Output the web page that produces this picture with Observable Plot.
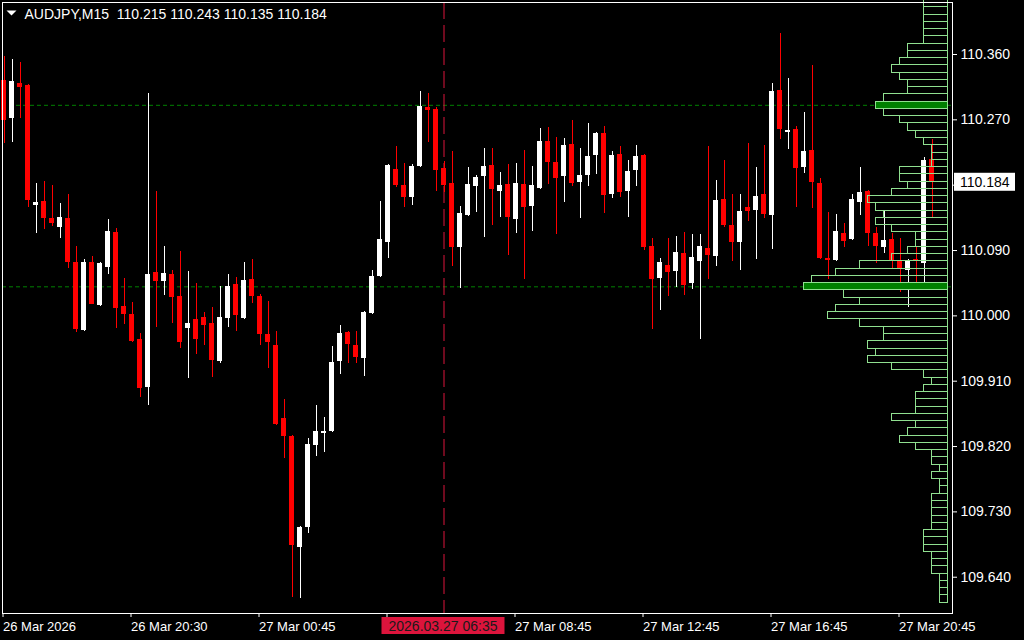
<!DOCTYPE html>
<html><head><meta charset="utf-8">
<script src="https://cdn.jsdelivr.net/npm/d3@7"></script>
<script src="https://cdn.jsdelivr.net/npm/@observablehq/plot@0.6"></script>
<style>
html,body{margin:0;padding:0;background:#000;overflow:hidden}
#chart{position:relative;width:1024px;height:640px}
</style></head><body><div id="chart"></div>
<script>
// ---- data (AUDJPY, M15) ----
const symbolName = "AUDJPY,M15";
const opens = [110.324,110.272,110.320,110.317,110.152,110.158,110.134,110.122,110.134,110.073,
109.980,110.073,110.014,110.067,110.115,110.013,110.002,109.967,109.901,110.060,
110.047,110.057,110.027,109.983,109.995,109.998,109.989,109.937,109.996,110.043,
109.996,110.050,110.027,109.974,109.959,109.859,109.834,109.681,109.708,109.821,
109.839,109.841,109.937,109.977,109.959,109.941,110.003,110.054,110.101,110.202,
110.180,110.163,110.206,110.287,110.284,110.203,110.182,110.094,110.138,110.178,
110.192,110.207,110.171,110.181,110.133,110.181,110.151,110.175,110.240,110.211,
110.192,110.236,110.184,110.193,110.221,110.251,110.167,110.222,110.171,110.200,
110.221,110.096,110.052,110.069,110.061,110.086,110.045,110.075,110.093,110.082,
110.160,110.124,110.101,110.149,110.145,110.167,110.138,110.310,110.253,110.257,
110.204,110.228,110.182,110.079,110.076,110.113,110.105,110.156,110.171,110.113,
110.094,110.105,110.076,110.062,110.078,110.072,110.215];
const highs = [110.357,110.353,110.349,110.318,110.182,110.185,110.180,110.155,110.167,110.096,
110.078,110.082,110.074,110.133,110.120,110.052,110.018,109.976,110.306,110.171,
110.096,110.062,110.089,110.061,110.045,110.005,110.011,110.040,110.057,110.053,
110.073,110.078,110.029,110.020,109.978,109.885,109.835,109.710,109.831,109.877,
109.860,109.958,109.987,109.978,109.978,110.006,110.062,110.158,110.209,110.233,
110.210,110.208,110.309,110.306,110.287,110.212,110.226,110.151,110.204,110.193,
110.231,110.231,110.198,110.208,110.210,110.228,110.206,110.258,110.259,110.246,
110.244,110.269,110.231,110.265,110.252,110.261,110.226,110.233,110.214,110.235,
110.222,110.107,110.079,110.107,110.109,110.115,110.112,110.112,110.233,110.186,
110.214,110.167,110.167,110.237,110.204,110.235,110.320,110.389,110.327,110.261,
110.280,110.345,110.189,110.142,110.140,110.127,110.167,110.204,110.172,110.122,
110.144,110.113,110.107,110.077,110.094,110.218,110.243];
const lows = [110.237,110.239,110.272,110.149,110.113,110.119,110.123,110.107,110.065,109.977,
109.979,110.015,110.013,110.057,109.983,109.988,109.963,109.888,109.877,109.984,
110.028,109.989,109.955,109.914,109.947,109.959,109.915,109.934,109.984,109.978,
109.995,110.017,109.959,109.927,109.849,109.803,109.612,109.611,109.700,109.806,
109.812,109.840,109.919,109.934,109.934,109.916,110.002,110.053,110.079,110.177,
110.149,110.152,110.205,110.239,110.171,110.170,110.068,110.038,110.137,110.142,
110.108,110.124,110.136,110.083,110.113,110.050,110.116,110.174,110.181,110.112,
110.156,110.178,110.134,110.178,110.195,110.141,110.162,110.163,110.136,110.178,
110.090,109.981,110.007,110.027,110.039,110.028,110.036,109.967,110.050,110.068,
110.122,110.075,110.062,110.130,110.078,110.134,110.091,110.243,110.229,110.149,
110.196,110.148,110.078,110.050,110.075,110.094,110.104,110.138,110.096,110.072,
110.086,110.065,110.032,110.011,110.040,110.042,110.135];
const closes = [110.269,110.323,110.315,110.159,110.156,110.134,110.127,110.136,110.073,109.981,
110.073,110.016,110.072,110.116,110.010,110.002,109.965,109.900,110.057,110.047,
110.058,110.025,109.963,109.989,109.967,109.987,109.939,109.998,110.040,110.000,
110.049,110.027,109.974,109.963,109.850,109.834,109.684,109.708,109.823,109.841,
109.840,109.936,109.976,109.960,109.942,110.005,110.054,110.105,110.207,110.180,
110.163,110.206,110.288,110.283,110.200,110.180,110.094,110.141,110.181,110.191,
110.206,110.174,110.180,110.136,110.182,110.149,110.180,110.240,110.211,110.189,
110.235,110.182,110.193,110.220,110.251,110.166,110.221,110.170,110.199,110.220,
110.094,110.050,110.073,110.060,110.087,110.042,110.080,110.096,110.083,110.159,
110.124,110.101,110.144,110.144,110.164,110.140,110.309,110.257,110.255,110.203,
110.226,110.184,110.079,110.076,110.116,110.102,110.160,110.170,110.113,110.096,
110.104,110.076,110.065,110.076,110.075,110.214,110.184];

const timeTickIndex = [0,16,32,48,64,80,96,112];
const timeTickLabels = ["26 Mar 2026","26 Mar 20:30","27 Mar 00:45","27 Mar 04:45","27 Mar 08:45","27 Mar 12:45","27 Mar 16:45","27 Mar 20:45"];
const priceTicks = [110.36,110.27,110.18,110.09,110.00,109.91,109.82,109.73,109.64];

const profileLevels = [110.43,110.42,110.41,110.40,110.39,110.38,110.37,110.36,110.35,110.34,
110.33,110.32,110.31,110.30,110.29,110.28,110.27,110.26,110.25,110.24,
110.23,110.22,110.21,110.20,110.19,110.18,110.17,110.16,110.15,110.14,
110.13,110.12,110.11,110.10,110.09,110.08,110.07,110.06,110.05,110.04,
110.03,110.02,110.01,110.00,109.99,109.98,109.97,109.96,109.95,109.94,
109.93,109.92,109.91,109.90,109.89,109.88,109.87,109.86,109.85,109.84,
109.83,109.82,109.81,109.80,109.79,109.78,109.77,109.76,109.75,109.74,
109.73,109.72,109.71,109.70,109.69,109.68,109.67,109.66,109.65,109.64,
109.63,109.62,109.61];
const profileCounts = [3,3,3,3,3,3,5,5,6,7,6,5,5,8,9,8,6,5,4,3,2,2,2,6,6,5,7,10,9,8,9,7,4,4,5,7,11,14,17,18,
13,11,14,15,11,8,8,10,9,10,7,3,2,3,4,4,4,7,4,5,6,4,2,2,1,2,1,1,2,2,2,2,2,3,3,3,2,2,2,1,1,1,1];
const pocLevels = [110.29, 110.04];
const profileBinSize = 0.01;
const profileAnchor = 118;      // right edge of the profile, in bar units
const cursorIndex = 55;
const cursorLabel = "2026.03.27 06:35";

// ---- build tables ----
const bars = opens.map((o, i) => ({i, o, h: highs[i], l: lows[i], c: closes[i], up: closes[i] >= o}));
const minBody = 0.0025;
bars.forEach(d => {
  let lo = Math.min(d.o, d.c), hi = Math.max(d.o, d.c);
  if (hi - lo < minBody) { const m = (hi + lo) / 2; lo = m - minBody / 2; hi = m + minBody / 2; }
  d.b1 = lo; d.b2 = hi; d.col = d.up ? "#ffffff" : "#ff0000";
});
const profile = profileLevels.map((p, k) => ({p, n: profileCounts[k], poc: pocLevels.some(v => Math.abs(v - p) < 1e-6)}));
const last = bars[bars.length - 1];
const titleText = symbolName + "\u00a0\u00a0" + [last.o, last.h, last.l, last.c].map(v => v.toFixed(3)).join(" ");

// labels hidden behind the cursor-time box and the current-price box
const timeLabel = d => Math.abs(d - cursorIndex) < 8 ? "" : timeTickLabels[timeTickIndex.indexOf(d)];
const priceLabel = d => Math.abs(d - last.c) < 0.012 ? "" : d.toFixed(3);

const font = "'Liberation Sans', Arial, sans-serif";
const plot = Plot.plot({
  width: 1024, height: 640,
  marginTop: 2, marginLeft: 2, marginRight: 72, marginBottom: 27,
  style: {background: "#000", color: "#fff", fontFamily: font, fontSize: "13px"},
  x: {type: "linear", domain: [-0.1875, 118.5625], axis: null, label: null},
  y: {domain: [109.59003, 110.43163], axis: null, label: null},
  marks: [
    Plot.ruleY(pocLevels, {stroke: "#008000", strokeDasharray: "4,3"}),
    Plot.ruleX([cursorIndex], {stroke: "#dc143c", strokeDasharray: "17,6"}),
    Plot.ruleX(bars, {x: "i", y1: "l", y2: "h", stroke: "col", shapeRendering: "crispEdges"}),
    Plot.rect(bars, {x1: d => d.i - 0.3125, x2: d => d.i + 0.3125, y1: "b1", y2: "b2", fill: "col", shapeRendering: "crispEdges"}),
    Plot.rect(profile.filter(d => d.poc), {x1: d => profileAnchor - d.n, x2: profileAnchor, y1: d => d.p - profileBinSize / 2, y2: d => d.p + profileBinSize / 2, fill: "#008000", shapeRendering: "crispEdges"}),
    Plot.rect(profile, {x1: d => profileAnchor - d.n, x2: profileAnchor, y1: d => d.p - profileBinSize / 2, y2: d => d.p + profileBinSize / 2, fill: "none", stroke: "#90e090", strokeWidth: 1, shapeRendering: "crispEdges"}),
    Plot.frame({stroke: "#fff", shapeRendering: "crispEdges"}),
    Plot.axisY(priceTicks, {anchor: "right", label: null, tickSize: 4, tickPadding: 4, tickFormat: priceLabel, fontSize: 14}),
    Plot.axisX(timeTickIndex, {anchor: "bottom", label: null, tickSize: 4, tickPadding: 4, textAnchor: "start", dx: -1, fontSize: 13,
      tickFormat: timeLabel}),
    Plot.dot([0], {frameAnchor: "top-left", dx: 9, dy: 10.5, fill: "#fff", stroke: "none",
      symbol: {draw(ctx) { ctx.moveTo(-5, -2.5); ctx.lineTo(5, -2.5); ctx.lineTo(0, 2.5); ctx.closePath(); }}}),
    Plot.text([titleText], {frameAnchor: "top-left", dx: 22, dy: 7, lineAnchor: "top", textAnchor: "start", fill: "#fff", fontSize: 14})
  ]
});
document.getElementById("chart").appendChild(plot);

// ---- cursor time box and current price box ----
const xs = plot.scale("x"), ys = plot.scale("y");
const svg = d3.select(plot);
const frameBottom = ys.range[0], frameRight = xs.range[1];
const cx = xs.apply(cursorIndex);
const g1 = svg.append("g");
g1.append("rect").attr("x", cx - 62).attr("y", frameBottom + 4).attr("width", 123).attr("height", 17).attr("fill", "#dc143c");
g1.append("text").attr("x", cx - 0.5).attr("y", frameBottom + 18).attr("text-anchor", "middle")
  .attr("font-family", font).attr("font-size", 14).attr("fill", "#1a1a1a").text(cursorLabel);
const yc = ys.apply(last.c);
const g2 = svg.append("g");
g2.append("rect").attr("x", frameRight + 2).attr("y", yc - 9).attr("width", 61).attr("height", 18).attr("fill", "#fff");
g2.append("text").attr("x", frameRight + 8).attr("y", yc + 5).attr("text-anchor", "start").attr("font-family", font).attr("font-size", 14)
  .attr("fill", "#000").text(last.c.toFixed(3));
</script></body></html>
